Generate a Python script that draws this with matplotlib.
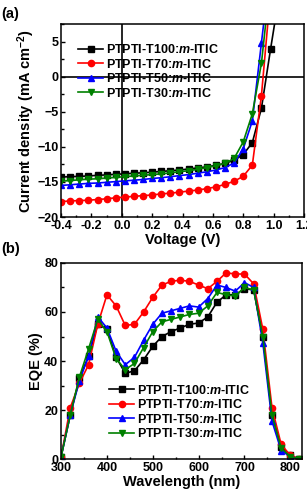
import matplotlib
matplotlib.use("Agg")
import matplotlib.pyplot as plt
from matplotlib.ticker import MultipleLocator

plt.rcParams['font.family'] = ['Liberation Sans', 'DejaVu Sans']
plt.rcParams['font.weight'] = 'bold'
plt.rcParams['axes.labelweight'] = 'bold'
plt.rcParams['mathtext.fontset'] = 'custom'
plt.rcParams['mathtext.rm'] = 'Liberation Sans:bold'
plt.rcParams['mathtext.it'] = 'Liberation Sans:italic:bold'
plt.rcParams['mathtext.bf'] = 'Liberation Sans:bold'

names = ['PTPTI-T100:$m$-ITIC', 'PTPTI-T70:$m$-ITIC',
         'PTPTI-T50:$m$-ITIC', 'PTPTI-T30:$m$-ITIC']
colors = ['black', 'red', 'blue', 'green']
markers = ['s', 'o', '^', 'v']

# J-V data
voltage = [-0.40, -0.34, -0.28, -0.22, -0.16, -0.10, -0.04, 0.02, 0.08, 0.14,
           0.20, 0.26, 0.32, 0.38, 0.44, 0.50, 0.56, 0.62, 0.68, 0.74,
           0.80, 0.86, 0.92, 0.98, 1.04]
j_t100 = [-14.3, -14.25, -14.2, -14.15, -14.05, -14.0, -13.9, -13.85, -13.75, -13.7,
          -13.6, -13.5, -13.4, -13.3, -13.15, -13.0, -12.85, -12.65, -12.35, -11.9,
          -11.1, -9.4, -4.5, 3.9, 12.0]
j_t70 = [-17.8, -17.7, -17.65, -17.6, -17.5, -17.4, -17.25, -17.15, -17.05, -16.95,
         -16.85, -16.7, -16.6, -16.45, -16.3, -16.15, -15.95, -15.7, -15.35, -14.9,
         -14.2, -12.6, -2.7, 12.0, 25.0]
j_t50 = [-15.5, -15.4, -15.3, -15.2, -15.15, -15.05, -14.95, -14.85, -14.75, -14.65,
         -14.5, -14.4, -14.25, -14.1, -13.95, -13.75, -13.55, -13.3, -12.95, -12.3,
         -10.3, -6.3, 4.8, 16.0, 28.0]
j_t30 = [-14.9, -14.8, -14.7, -14.6, -14.55, -14.45, -14.35, -14.25, -14.15, -14.05,
         -13.95, -13.85, -13.7, -13.55, -13.4, -13.2, -12.95, -12.7, -12.35, -11.65,
         -9.3, -5.3, 1.9, 14.0, 26.0]

# EQE data
wavelength = [300, 320, 340, 360, 380, 400, 420, 440, 460, 480, 500, 520, 540,
              560, 580, 600, 620, 640, 660, 680, 700, 720, 740, 760, 780, 800, 820]
eqe_t100 = [1, 18, 33, 42, 55, 53, 41.5, 35, 36, 40.5, 46, 50, 52,
            53.5, 55, 55.5, 58, 64, 67, 67, 69.5, 69, 50, 18, 5, 1.5, 0]
eqe_t70 = [1, 21, 31, 38.5, 55, 67, 62.5, 54.5, 55, 60, 66, 71, 72.5,
           73, 72.5, 71, 69.5, 72.5, 76, 75.5, 75.5, 71.5, 53, 21, 6, 1.5, 0]
eqe_t50 = [1, 18, 32, 42, 58, 53.5, 44, 38.5, 41.5, 48.5, 55, 59.5, 60.5,
           61.5, 62.5, 62, 65.5, 71, 70, 68.5, 72, 70, 47.5, 15.5, 3.5, 1, 0]
eqe_t30 = [1, 18, 33.5, 45, 57, 52, 41, 36.5, 39, 45.5, 52, 56, 57,
           58, 59, 59.5, 62.5, 68, 67, 66.5, 70, 69, 50, 18, 4.5, 1, 0]

fig = plt.figure(figsize=(3.07, 4.99), dpi=100)
ax1 = fig.add_axes([0.199, 0.565, 0.791, 0.387])
ax2 = fig.add_axes([0.199, 0.080, 0.784, 0.393])

for j, name, c, m in zip([j_t100, j_t70, j_t50, j_t30], names, colors, markers):
    ax1.plot(voltage, j, color=c, marker=m, markersize=4.5, linewidth=1.2, label=name)
ax1.axhline(0, color='black', linewidth=1.2, zorder=0)
ax1.axvline(0, color='black', linewidth=1.2, zorder=0)
ax1.set_xlim(-0.4, 1.2)
ax1.set_ylim(-20, 7.5)
ax1.xaxis.set_minor_locator(MultipleLocator(0.1))
ax1.yaxis.set_major_locator(MultipleLocator(5))
ax1.yaxis.set_minor_locator(MultipleLocator(2.5))
ax1.set_xticks([-0.4, -0.2, 0.0, 0.2, 0.4, 0.6, 0.8, 1.0, 1.2])
ax1.set_xticklabels(['-0.4', '-0.2', '0.0', '0.2', '0.4', '0.6', '0.8', '1.0', '1.2'])
ax1.set_xlabel('Voltage (V)', fontsize=10.5, labelpad=1)
ax1.set_ylabel('Current density (mA cm$^{-2}$)', fontsize=10.5, labelpad=0)
ax1.legend(loc='upper left', bbox_to_anchor=(0.07, 0.90), frameon=False,
           fontsize=9, handlelength=2.0, handletextpad=0.2, labelspacing=0.12,
           borderaxespad=0.0, borderpad=0.0)

for e, name, c, m in zip([eqe_t100, eqe_t70, eqe_t50, eqe_t30], names, colors, markers):
    ax2.plot(wavelength, e, color=c, marker=m, markersize=4.5, linewidth=1.2, label=name)
ax2.set_xlim(300, 825)
ax2.set_ylim(0, 80)
ax2.xaxis.set_major_locator(MultipleLocator(100))
ax2.xaxis.set_minor_locator(MultipleLocator(50))
ax2.yaxis.set_major_locator(MultipleLocator(20))
ax2.yaxis.set_minor_locator(MultipleLocator(10))
ax2.set_xlabel('Wavelength (nm)', fontsize=10.5, labelpad=1)
ax2.set_ylabel('EQE (%)', fontsize=10.5, labelpad=1)
ax2.legend(loc='upper left', bbox_to_anchor=(0.2, 0.385), frameon=False,
           fontsize=9, handlelength=2.0, handletextpad=0.2, labelspacing=0.12,
           borderaxespad=0.0, borderpad=0.0)

for ax in (ax1, ax2):
    ax.tick_params(which='both', direction='in', labelsize=9, pad=2, width=1)
    ax.tick_params(which='major', length=3)
    ax.tick_params(which='minor', length=1.8)
    for s in ax.spines.values():
        s.set_linewidth(1.1)
    for lab in ax.get_xticklabels() + ax.get_yticklabels():
        lab.set_fontweight('bold')

fig.text(0.005, 0.985, '(a)', fontsize=10.5, fontweight='bold', va='top')
fig.text(0.005, 0.515, '(b)', fontsize=10.5, fontweight='bold', va='top')

fig.savefig('out.png', dpi=100)
